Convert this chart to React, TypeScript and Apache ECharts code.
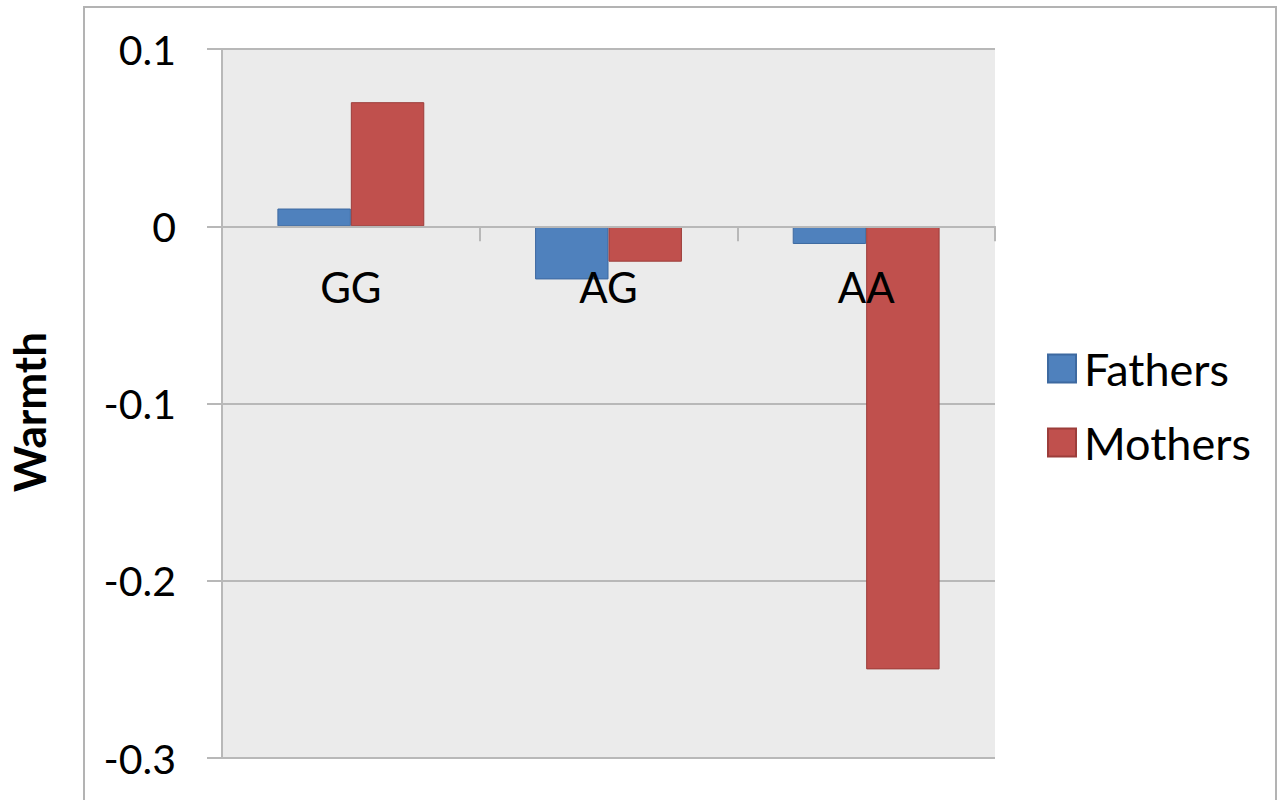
import React, { useEffect, useRef } from "react";
import * as echarts from "echarts";

const categories = ["GG", "AG", "AA"];
const fathers = [0.01, -0.03, -0.01];
const mothers = [0.07, -0.02, -0.25];
const yTicks = { min: -0.3, max: 0.1, interval: 0.1 };

const FONT = "Lato";
const GRID_COLOR = "#b8b8b8";

const GRID_TOP = 49;
const GRID_HEIGHT = 709;
// pixel distance from grid bottom to the zero line (axis sits on zero)
const ZERO_OFFSET = -(GRID_HEIGHT * (0 - yTicks.min)) / (yTicks.max - yTicks.min);

export default function App() {
  const ref = useRef<HTMLDivElement>(null);
  useEffect(() => {
    if (!ref.current) return;
    const chart = echarts.init(ref.current, null, { renderer: "svg" });
    chart.setOption({
      animation: false,
      backgroundColor: "#ffffff",
      textStyle: { fontFamily: FONT },
      grid: {
        left: 222,
        top: GRID_TOP,
        width: 773,
        height: GRID_HEIGHT,
        show: true,
        backgroundColor: "#ebebeb",
        borderWidth: 0,
        containLabel: false,
        outerBoundsMode: "none",
      },
      legend: {
        orient: "vertical",
        left: 1042,
        top: 341,
        itemWidth: 28,
        itemHeight: 28,
        itemGap: 29,
        icon: "rect",
        textStyle: {
          fontFamily: FONT,
          fontSize: 45,
          color: "#000",
          lineHeight: 28,
          padding: [0, 0, 0, 3],
        },
        data: ["Fathers", "Mothers"],
      },
      xAxis: {
        type: "category",
        data: categories,
        offset: ZERO_OFFSET,
        z: 5,
        axisLine: { show: true, onZero: false, lineStyle: { color: GRID_COLOR, width: 2 } },
        axisTick: { show: true, length: 15, lineStyle: { color: GRID_COLOR, width: 2 } },
        axisLabel: {
          margin: 40,
          fontFamily: FONT,
          fontSize: 42,
          lineHeight: 42,
          color: "#000",
        },
        splitLine: { show: false },
      },
      yAxis: {
        type: "value",
        min: yTicks.min,
        max: yTicks.max,
        interval: yTicks.interval,
        axisLine: { show: true, lineStyle: { color: GRID_COLOR, width: 2 } },
        axisTick: { show: true, length: 15, lineStyle: { color: GRID_COLOR, width: 2 } },
        axisLabel: {
          margin: 46,
          fontFamily: FONT,
          fontSize: 41,
          color: "#000",
          formatter: (v: number) => String(Math.round(v * 10) / 10),
        },
        splitLine: { show: true, lineStyle: { color: GRID_COLOR, width: 2 } },
      },
      series: [
        {
          name: "Fathers",
          type: "bar",
          data: fathers,
          barGap: "0%",
          barCategoryGap: "43%",
          itemStyle: { color: "#4f81bd", borderColor: "#3d69a0", borderWidth: 1 },
        },
        {
          name: "Mothers",
          type: "bar",
          data: mothers,
          barGap: "0%",
          barCategoryGap: "43%",
          itemStyle: { color: "#c0504d", borderColor: "#9c3d3a", borderWidth: 1 },
        },
      ],
      graphic: [
        {
          type: "rect",
          shape: { x: 84, y: 7, width: 1192, height: 900 },
          style: { fill: "none", stroke: "#b3b3b3", lineWidth: 2 },
          silent: true,
        },
        {
          type: "text",
          x: 29,
          y: 412,
          rotation: Math.PI / 2,
          style: {
            text: "Warmth",
            fontFamily: FONT,
            fontWeight: "bold",
            fontSize: 44,
            fill: "#000",
            textAlign: "center",
            textVerticalAlign: "middle",
          },
        },
      ],
    });
    return () => chart.dispose();
  }, []);
  return (
    <div
      ref={ref}
      style={{ position: "absolute", left: 0, top: 0, width: 1283, height: 800 }}
    />
  );
}
